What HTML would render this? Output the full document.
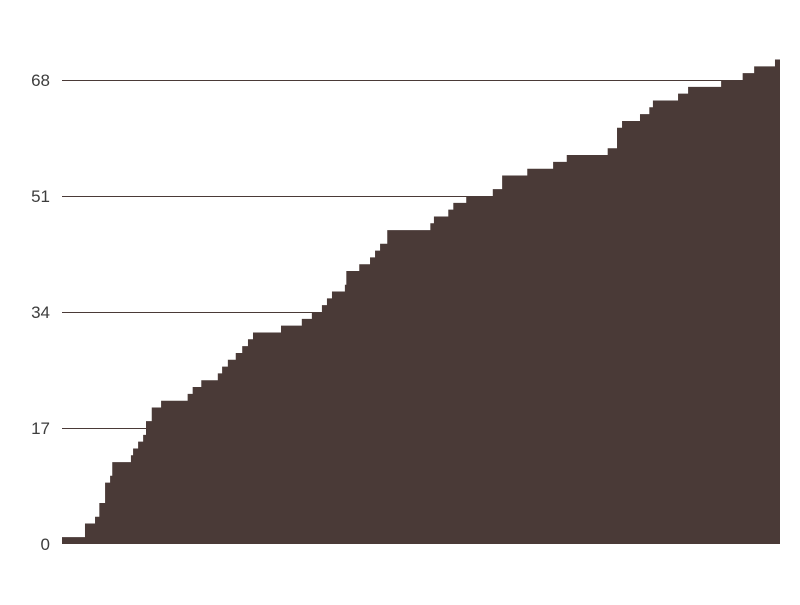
<!DOCTYPE html>
<html><head><meta charset="utf-8"><style>
body{margin:0;background:#fff}
svg text{font-family:"Liberation Sans",sans-serif;font-size:17px;fill:#3d3d3d}
</style></head><body>
<svg id="chart" width="800" height="600" xmlns="http://www.w3.org/2000/svg"></svg>
<script>
const times=[0,3.2,4.6,5.2,6.0,6.7,7.0,9.6,9.9,10.6,11.3,11.7,12.5,13.8,17.5,18.2,19.4,21.7,22.3,23.1,24.2,25.1,25.9,26.6,30.5,33.4,34.8,36.2,36.9,37.6,39.4,39.6,41.4,42.9,43.6,44.3,45.3,51.3,51.8,53.8,54.5,56.3,60.0,61.3,64.8,68.4,70.3,76.0,77.3,78.0,80.5,81.8,82.3,85.8,87.2,91.8,94.8,96.4,99.3];
const counts=[1,3,4,6,9,10,12,13,14,15,16,18,20,21,22,23,24,25,26,27,28,29,30,31,32,33,34,35,36,37,38,40,41,42,43,44,46,47,48,49,50,51,52,54,55,56,57,58,61,62,63,64,65,66,67,68,69,70,71];
const yTicks=[0,17,34,51,68];
const xMax=100;
const L=62,R=780,T=80,B=544;
const x=t=>L+(t/xMax)*(R-L);
const y=v=>B-(v/68)*(B-T);
const svg=document.getElementById('chart');
const NS='http://www.w3.org/2000/svg';
yTicks.forEach(v=>{
  if(v>0){
    const ln=document.createElementNS(NS,'line');
    
    
    ln.setAttribute('x1',L);ln.setAttribute('x2',R);
    ln.setAttribute('y1',y(v)+0.5);ln.setAttribute('y2',y(v)+0.5);
    ln.setAttribute('stroke','#4a3a37');ln.setAttribute('stroke-width','1');
    svg.appendChild(ln);
  }
  const tx=document.createElementNS(NS,'text');
  
  
  tx.setAttribute('x',50);tx.setAttribute('y',y(v)+6);
  tx.setAttribute('text-anchor','end');
  tx.textContent=v;
  svg.appendChild(tx);
});
let d='M'+x(times[0])+','+B;
for(let i=0;i<times.length;i++){
  d+=' L'+x(times[i])+','+y(counts[i]);
  const next=i+1<times.length?x(times[i+1]):R;
  d+=' L'+next+','+y(counts[i]);
}
d+=' L'+R+','+B+' Z';
const p=document.createElementNS(NS,'path');


p.setAttribute('d',d);p.setAttribute('fill','#4a3a37');
svg.appendChild(p);
</script>
</body></html>
